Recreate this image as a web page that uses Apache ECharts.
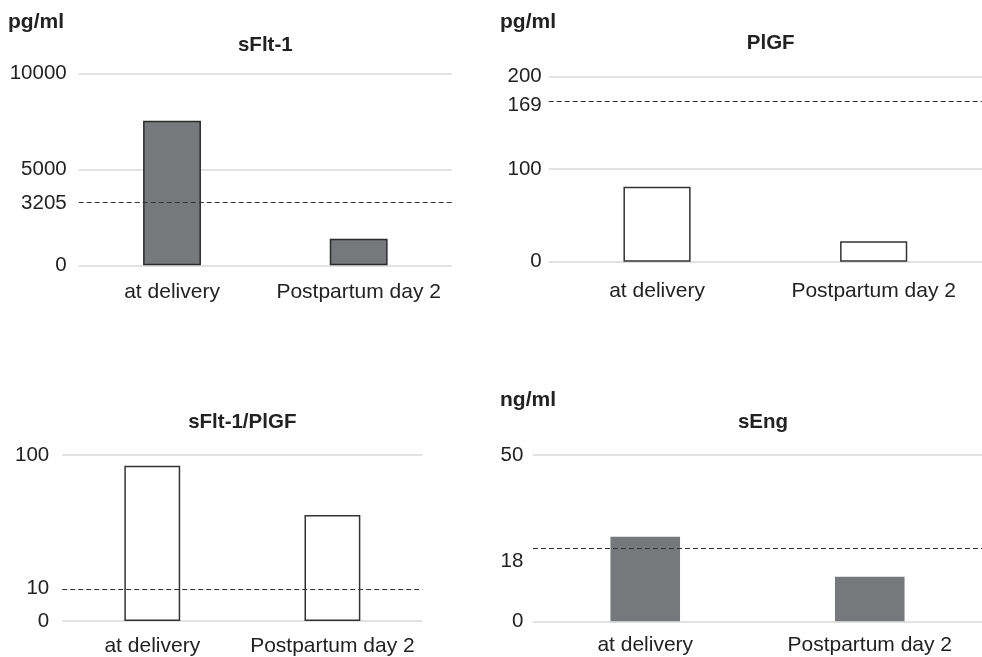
<!DOCTYPE html>
<html>
<head>
<meta charset="utf-8">
<script src="https://cdn.jsdelivr.net/npm/echarts@6/dist/echarts.min.js"></script>
<style>
html,body{margin:0;padding:0;background:#fff;}
#chart{width:982px;height:657px;}
</style>
</head>
<body>
<div id="chart"></div>
<script>
// ---- data ----
const categories = ['at delivery', 'Postpartum day 2'];
const sflt1Values = [7530, 1385];
const plgfValues = [81, 22];
const ratioValues = [92.8, 59.7];
const sengValues = [25.4, 13.4];

const sflt1Ticks = [0, 3205, 5000, 10000];
const plgfTicks = [0, 100, 169, 200];
const ratioTicks = [0, 10, 100];
const sengTicks = [0, 18, 50];

// dashed reference lines (positions)
const sflt1Cutoff = 3297;
const plgfCutoff = 173;
const ratioCutoff = 10;
const sengCutoff = 22;

const panelTitles = ['sFlt-1', 'PlGF', 'sFlt-1/PlGF', 'sEng'];
const unitLabels = ['pg/ml', 'pg/ml', '', 'ng/ml'];

// ---- styling / layout ----
const FONT = '"Liberation Sans", Arial, sans-serif';
const TXT = '#222';
const GRAY = '#77787b';

const grids = [
  {left: 78.7, top: 73.3, width: 373.3, height: 192},
  {left: 548.7, top: 76.7, width: 444, height: 185},
  {left: 62.2, top: 455, width: 360.3, height: 166.3},
  {left: 533, top: 455, width: 460, height: 166.3}
];
const xLabelMargin = [16, 19.5, 15, 13.2];
const yLabelMargin = [12, 7, 13, 9.7];
const yCfg = [
  {min: 0, max: 10000, interval: 5000, ticks: sflt1Ticks},
  {min: 0, max: 200, interval: 100, ticks: plgfTicks},
  {min: 0, max: 100, interval: 100, ticks: ratioTicks,
    breaks: [{start: 0.5, end: 9.5, gap: 20.65}]},
  {min: 0, max: 50, interval: 50, ticks: sengTicks}
];
const seriesData = [sflt1Values, plgfValues, ratioValues, sengValues];
const cutoffs = [sflt1Cutoff, plgfCutoff, ratioCutoff, sengCutoff];
const barStyles = [
  {color: GRAY, borderColor: '#2b2b2b', borderWidth: 1.5},
  {color: '#ffffff', borderColor: '#333', borderWidth: 1.5},
  {color: '#ffffff', borderColor: '#333', borderWidth: 1.5},
  {color: GRAY, borderWidth: 0}
];
const titlePos = [[265.3, 45], [770.7, 43.5], [242.3, 422.7], [763, 422.7]];
const unitPos = [[8, 22], [500, 22], [0, 0], [500, 400]];

const option = {
  animation: false,
  backgroundColor: '#fff',
  grid: grids.map(g => Object.assign({containLabel: false}, g)),
  xAxis: grids.map((g, i) => ({
    type: 'category',
    gridIndex: i,
    data: categories,
    axisLine: {show: false},
    axisTick: {show: false},
    axisLabel: {interval: 0, hideOverlap: false, margin: xLabelMargin[i],
      color: TXT, fontSize: 21, fontFamily: FONT}
  })),
  yAxis: yCfg.map((c, i) => {
    const ax = {
      type: 'value',
      gridIndex: i,
      min: c.min, max: c.max, interval: c.interval,
      axisLine: {show: false},
      axisTick: {show: false},
      axisLabel: {customValues: c.ticks, formatter: v => String(v), hideOverlap: false,
        margin: yLabelMargin[i], color: TXT, fontSize: 20.5, fontFamily: FONT},
      splitLine: {show: true, lineStyle: {color: '#d9d9d9', width: 1.5}}
    };
    if (c.breaks) {
      ax.breaks = c.breaks;
      ax.breakArea = {show: false};
    }
    return ax;
  }),
  series: seriesData.map((d, i) => ({
    type: 'bar',
    xAxisIndex: i,
    yAxisIndex: i,
    data: d,
    barWidth: '31%',
    itemStyle: barStyles[i],
    silent: true,
    markLine: {
      silent: true,
      symbol: ['none', 'none'],
      label: {show: false},
      lineStyle: {type: [5, 3], color: '#333', width: 1.2},
      data: [{yAxis: cutoffs[i]}]
    }
  })),
  graphic: [
    ...panelTitles.map((t, i) => ({
      type: 'text', x: titlePos[i][0], y: titlePos[i][1],
      style: {text: t, textAlign: 'center', textVerticalAlign: 'middle',
        font: 'bold 20.5px ' + FONT, fill: TXT}
    })),
    ...unitLabels.map((t, i) => ({
      type: 'text', x: unitPos[i][0], y: unitPos[i][1], invisible: !t,
      style: {text: t, textAlign: 'left', textVerticalAlign: 'middle',
        font: 'bold 21px ' + FONT, fill: TXT}
    }))
  ]
};

const chart = echarts.init(document.getElementById('chart'), null, {renderer: 'canvas'});
chart.setOption(option);
</script>
</body>
</html>
